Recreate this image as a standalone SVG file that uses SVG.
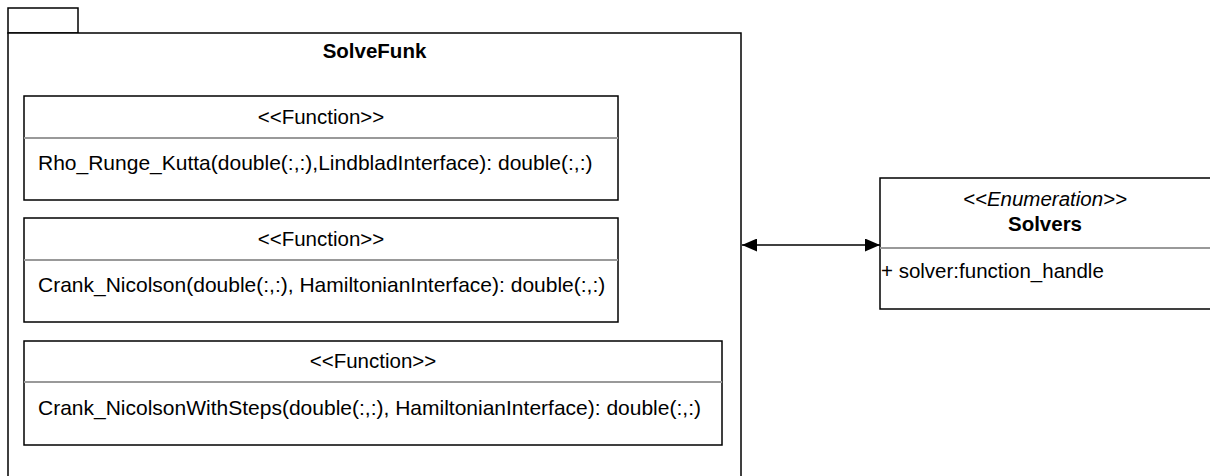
<svg xmlns="http://www.w3.org/2000/svg" width="1210" height="476" viewBox="0 0 1210 476">
<style>
.box{fill:#fff;stroke:#000;stroke-width:1.5}
.div{stroke:#999;stroke-width:2}
.t{font-family:"Liberation Sans",Arial,sans-serif;font-size:20.5px;fill:#000}
.body{font-size:21px}
.c{text-anchor:middle}
.b{font-weight:bold}
.i{font-style:italic}
.edge{stroke:#000;stroke-width:1.5;fill:none}
</style>
<defs>
<marker id="ah" viewBox="0 0 15 13" refX="15" refY="6.5" markerWidth="15" markerHeight="13" markerUnits="userSpaceOnUse" orient="auto-start-reverse">
<path d="M0,0 L15,6.5 L0,13 Z" fill="#000"/>
</marker>
</defs>
<g id="package-SolveFunk">
<rect class="box" x="8" y="8" width="70" height="25"/>
<rect class="box" x="8" y="33" width="733" height="460"/>
<text class="t c b" x="374.5" y="58">SolveFunk</text>
</g>
<g id="fn-rho-runge-kutta">
<rect class="box" x="24" y="96" width="594" height="104"/>
<line class="div" x1="24" y1="138" x2="618" y2="138"/>
<text class="t c" x="321" y="124">&lt;&lt;Function&gt;&gt;</text>
<text class="t body" x="38" y="170">Rho_Runge_Kutta(double(:,:),LindbladInterface): double(:,:)</text>
</g>
<g id="fn-crank-nicolson">
<rect class="box" x="24" y="218" width="594" height="104"/>
<line class="div" x1="24" y1="260" x2="618" y2="260"/>
<text class="t c" x="321" y="246">&lt;&lt;Function&gt;&gt;</text>
<text class="t body" x="38" y="292">Crank_Nicolson(double(:,:), HamiltonianInterface): double(:,:)</text>
</g>
<g id="fn-crank-nicolson-steps">
<rect class="box" x="24" y="341" width="698" height="104"/>
<line class="div" x1="24" y1="382" x2="722" y2="382"/>
<text class="t c" x="373" y="368">&lt;&lt;Function&gt;&gt;</text>
<text class="t body" x="38" y="415">Crank_NicolsonWithSteps(double(:,:), HamiltonianInterface): double(:,:)</text>
</g>
<g id="enum-Solvers">
<rect class="box" x="880" y="178" width="340" height="131"/>
<line class="div" x1="880" y1="248" x2="1210" y2="248"/>
<text class="t c i" x="1045" y="206">&lt;&lt;Enumeration&gt;&gt;</text>
<text class="t c b" x="1045" y="231">Solvers</text>
<text class="t" x="881" y="278">+ solver:function_handle</text>
</g>
<g id="connectors">
<line class="edge" x1="742" y1="245" x2="880" y2="245" marker-start="url(#ah)" marker-end="url(#ah)"/>
</g>
</svg>
